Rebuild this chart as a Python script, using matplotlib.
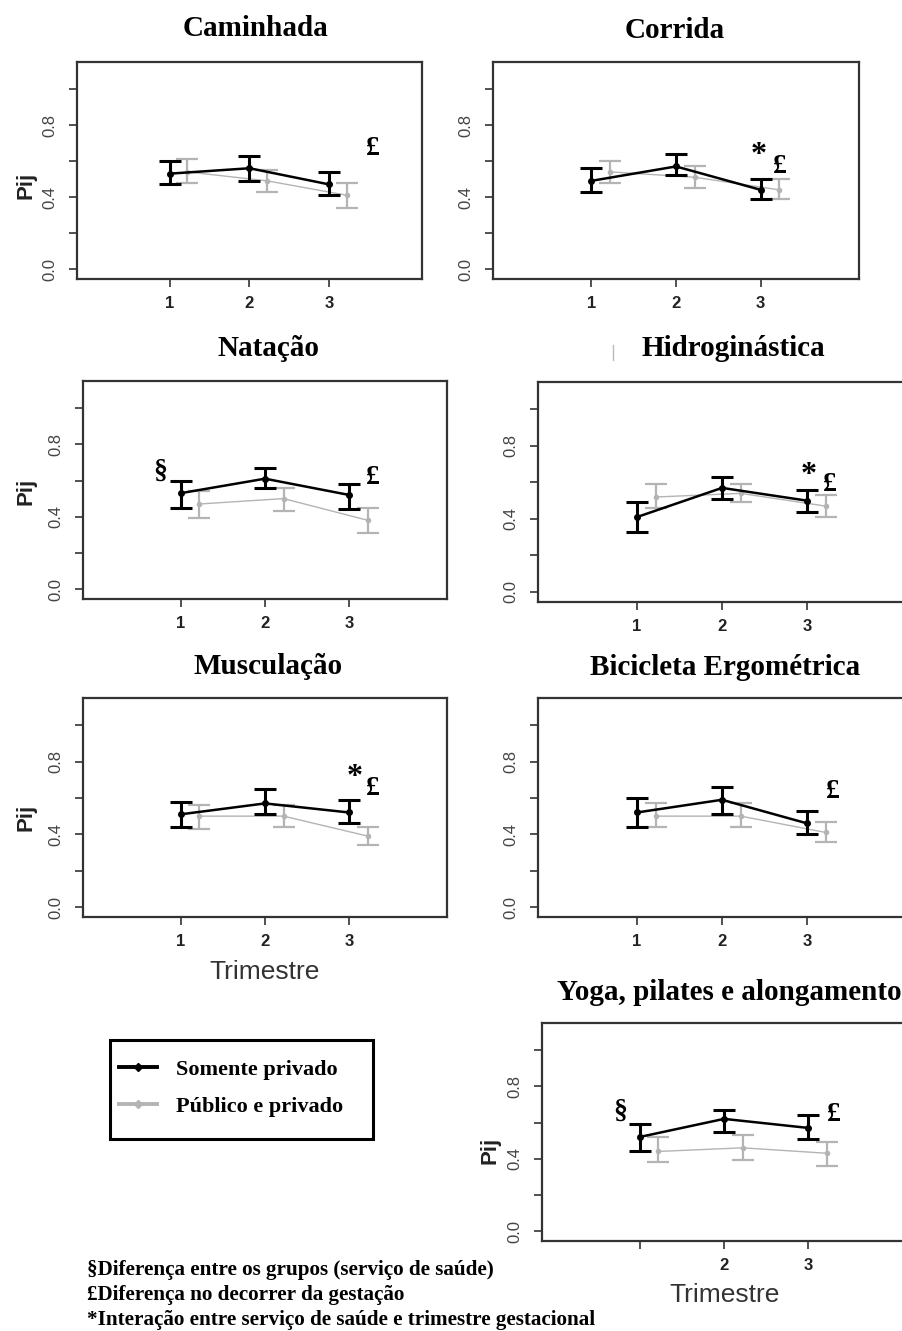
import matplotlib.pyplot as plt
from matplotlib.lines import Line2D
from matplotlib.patches import Rectangle
import numpy as np

# --- data (probability Pij per trimester) ---
trimestres = [1, 2, 3]
atividades = ['Caminhada', 'Corrida', 'Natação', 'Hidroginástica',
              'Musculação', 'Bicicleta Ergométrica', 'Yoga, pilates e alongamento']
grupos = ['Somente privado', 'Público e privado']

priv_media = [[0.53, 0.56, 0.47], [0.49, 0.57, 0.44], [0.53, 0.61, 0.52], [0.41, 0.57, 0.50],
              [0.51, 0.57, 0.52], [0.52, 0.59, 0.46], [0.52, 0.62, 0.57]]
priv_inf = [[0.47, 0.49, 0.41], [0.43, 0.52, 0.39], [0.45, 0.56, 0.44], [0.33, 0.51, 0.44],
            [0.44, 0.51, 0.46], [0.44, 0.51, 0.40], [0.44, 0.55, 0.51]]
priv_sup = [[0.60, 0.63, 0.54], [0.56, 0.64, 0.50], [0.60, 0.67, 0.58], [0.49, 0.63, 0.56],
            [0.58, 0.65, 0.59], [0.60, 0.66, 0.53], [0.59, 0.67, 0.64]]

pub_media = [[0.54, 0.49, 0.41], [0.54, 0.51, 0.44], [0.47, 0.50, 0.38], [0.52, 0.54, 0.47],
             [0.50, 0.50, 0.39], [0.50, 0.50, 0.41], [0.44, 0.46, 0.43]]
pub_inf = [[0.48, 0.43, 0.34], [0.48, 0.45, 0.39], [0.39, 0.43, 0.31], [0.46, 0.49, 0.41],
           [0.43, 0.44, 0.34], [0.44, 0.44, 0.36], [0.38, 0.39, 0.36]]
pub_sup = [[0.61, 0.55, 0.48], [0.60, 0.57, 0.50], [0.54, 0.56, 0.45], [0.59, 0.59, 0.53],
           [0.56, 0.56, 0.44], [0.57, 0.57, 0.47], [0.52, 0.53, 0.49]]

# significance marks per panel
marcas = [['£'], ['*', '£'], ['§', '£'], ['*', '£'], ['*', '£'], ['£'], ['§', '£']]

y_ticks = [0.0, 0.2, 0.4, 0.6, 0.8, 1.0]
y_labels = ['0.0', '', '0.4', '', '0.8', '']

notas = ['§Diferença entre os grupos (serviço de saúde)',
         '£Diferença no decorrer da gestação',
         '*Interação entre serviço de saúde e trimestre gestacional']

# --- layout (pixel boxes of the original composite) ---
W, H = 903, 1331
caixas = [(77, 62, 422, 279), (493, 62, 859, 279), (83, 381, 447, 599), (538, 382, 906, 602),
          (83, 698, 447, 917), (538, 698, 906, 917), (542, 1023, 906, 1241)]
titulo_pos = [(256, 29), (675, 30), (268, 348), (733, 349), (268, 667), (725, 668), (729, 993)]
marca_pos = [[(3.55, 0.67)], [(2.98, 0.63), (3.22, 0.57)], [(0.76, 0.65), (3.28, 0.614)],
             [(3.02, 0.64), (3.27, 0.59)], [(3.07, 0.71), (3.28, 0.65)], [(3.3, 0.636)],
             [(0.77, 0.66), (3.3, 0.646)]]
pij_pos = {0: (26, 185), 2: (26, 491), 4: (26, 817), 6: (490, 1150)}
trimestre_pos = {4: (265, 972), 6: (725, 1295)}

SERIF = 'Liberation Serif'
SANS = 'Liberation Sans'
CINZA = '#b4b4b4'
EIXO = '#333333'


def fx(px):
    return px / W


def fy(py):
    return 1 - py / H


fig = plt.figure(figsize=(W / 100, H / 100), dpi=100)

x = np.array(trimestres, dtype=float)
for i, nome in enumerate(atividades):
    l, t, r, b = caixas[i]
    ax = fig.add_axes([fx(l), fy(b), (r - l) / W, (b - t) / H])

    pm = np.array(pub_media[i])
    ax.errorbar(x + 0.22, pm, yerr=[pm - np.array(pub_inf[i]), np.array(pub_sup[i]) - pm],
                color=CINZA, lw=1.0, elinewidth=1.6, capsize=8, capthick=1.6,
                marker='o', ms=3, zorder=2)
    bm = np.array(priv_media[i])
    ax.errorbar(x, bm, yerr=[bm - np.array(priv_inf[i]), np.array(priv_sup[i]) - bm],
                color='black', lw=1.8, elinewidth=2.2, capsize=8, capthick=2.2,
                marker='o', ms=4, zorder=3)

    for m, (mx, my) in zip(marcas[i], marca_pos[i]):
        ax.text(mx, my, m, fontsize=23 if m == '*' else 20, fontweight='bold', family=SERIF,
                ha='center', va='center', zorder=4)

    ax.set_xlim(-0.16, 4.16)
    ax.set_ylim(-0.055, 1.15)
    ax.set_xticks(trimestres)
    ax.set_xticklabels(['', '2', '3'] if i == 6 else ['1', '2', '3'],
                       fontsize=12, fontweight='bold', family=SANS, color='#222222')
    ax.set_yticks(y_ticks)
    ax.set_yticklabels(y_labels, fontsize=12, family=SANS, color='#444444',
                       rotation=90, va='center')
    ax.tick_params(axis='x', length=6, width=1.2, pad=6, color=EIXO)
    ax.tick_params(axis='y', length=6, width=1.2, pad=8, color=EIXO)
    for s in ax.spines.values():
        s.set_color(EIXO)
        s.set_linewidth(1.6)

    tx, ty = titulo_pos[i]
    fig.text(fx(tx), fy(ty), nome, fontsize=21, fontweight='bold', family=SERIF,
             ha='center', va='center')
    if i in pij_pos:
        px_, py_ = pij_pos[i]
        fig.text(fx(px_), fy(py_), 'Pij', fontsize=16, fontweight='bold', family=SANS,
                 rotation=90, ha='center', va='center', color='#222222')
    if i in trimestre_pos:
        px_, py_ = trimestre_pos[i]
        fig.text(fx(px_), fy(py_), 'Trimestre', fontsize=19, family=SANS,
                 ha='center', va='center', color='#333333')

# small crop mark left of "Hidroginástica"
fig.add_artist(Line2D([fx(613), fx(613)], [fy(345), fy(360)], color='#bbbbbb', lw=1))

# legend: entries without frame, box drawn separately
handles = [Line2D([], [], color='black', lw=2.8, marker='D', ms=4),
           Line2D([], [], color=CINZA, lw=2.8, marker='D', ms=4)]
fig.legend(handles, grupos, loc='center left',
           bbox_to_anchor=(fx(119), fy(1088)), frameon=False,
           prop={'family': SERIF, 'weight': 'bold', 'size': 16},
           handlelength=1.7, handletextpad=0.85, borderpad=0, labelspacing=0.75,
           borderaxespad=0)
fig.add_artist(Rectangle((fx(110), fy(1139)), (373 - 110) / W, (1139 - 1040) / H,
                         transform=fig.transFigure, fill=False, edgecolor='black', lw=2.2))

for k, linha in enumerate(notas):
    fig.text(fx(87), fy(1270 + 25 * k), linha, fontsize=15.2, fontweight='bold',
             family=SERIF, ha='left', va='center')

fig.savefig('out.png', dpi=100)
